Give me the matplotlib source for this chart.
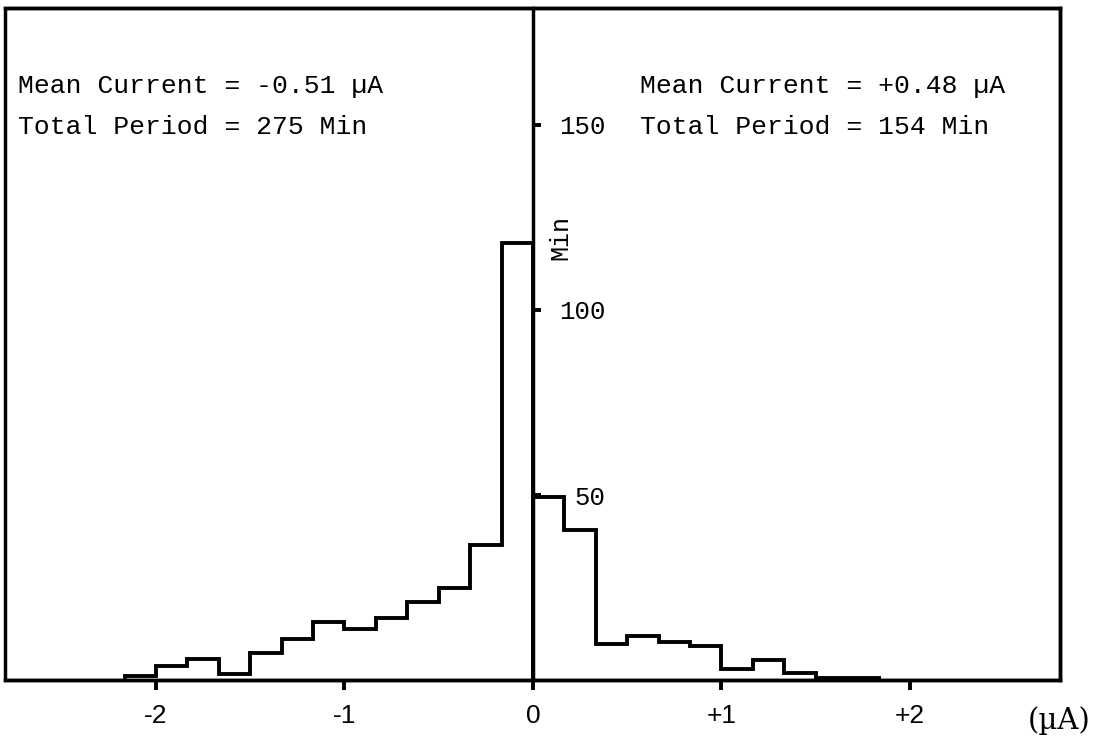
import matplotlib
matplotlib.use('Agg')
import matplotlib.pyplot as plt
from matplotlib.patches import Rectangle

# bin width is 1/6 uA, edges run out from zero on both sides
bin_w = 1.0 / 6.0
neg_minutes = [1, 3.7, 5.8, 1.7, 7.2, 11, 15.7, 13.8, 16.8, 21, 25, 36.5, 118]
pos_minutes = [49.5, 40.5, 9.7, 11.9, 10.2, 9.2, 3, 5.3, 2, 0.5, 0.5]

neg_edges = [-(len(neg_minutes) - i) * bin_w for i in range(len(neg_minutes) + 1)]
pos_edges = [i * bin_w for i in range(len(pos_minutes) + 1)]

x_ticks = [-2, -1, 0, 1, 2]
x_labels = ['-2', '-1', '0', '+1', '+2']
y_ticks = [50, 100, 150]

mono = 'Liberation Mono'

fig = plt.figure(figsize=(10.97, 7.39), dpi=100)
ax = fig.add_axes([0.00456, 0.0798, 0.9617, 0.9093])

ax.stairs(neg_minutes, neg_edges, color='black', lw=2.8)
ax.stairs(pos_minutes, pos_edges, color='black', lw=2.8)

ax.set_xlim(-2.801, 2.796)
ax.set_ylim(0, 181.6)

# frame drawn separately, the left spine becomes the zero axis
ax.add_patch(Rectangle((0, 0), 1, 1, transform=ax.transAxes, fill=False,
                       lw=2.5, color='black', clip_on=False))
for s in ['top', 'right', 'bottom']:
    ax.spines[s].set_linewidth(2.5)
ax.spines['left'].set_position(('data', 0))
ax.spines['left'].set_linewidth(2.5)

ax.set_xticks(x_ticks)
ax.set_xticklabels(x_labels, fontsize=19, family='Liberation Sans')
ax.tick_params(axis='x', direction='out', length=7, width=2.8, pad=10)

ax.set_yticks(y_ticks)
ax.set_yticklabels([str(v) for v in y_ticks], fontsize=18.5, family=mono)
ax.tick_params(axis='y', direction='in', length=6, width=2.8, pad=-52.5)

ax.text(0.143, 119.5, 'Min', rotation=90, fontsize=18, family=mono,
        va='center', ha='center')
ax.text(1.0285, -0.06, '(\u00b5A)', transform=ax.transAxes, fontsize=21,
        family='DejaVu Serif', ha='right', va='center', clip_on=False)

txt = dict(fontsize=19, family=mono, transform=ax.transAxes, va='center')
ax.text(0.012, 0.884, 'Mean Current = -0.51 \u00b5A', **txt)
ax.text(0.012, 0.823, 'Total Period = 275 Min', **txt)
ax.text(0.602, 0.884, 'Mean Current = +0.48 \u00b5A', **txt)
ax.text(0.602, 0.823, 'Total Period = 154 Min', **txt)

fig.savefig('out.png', dpi=100)
